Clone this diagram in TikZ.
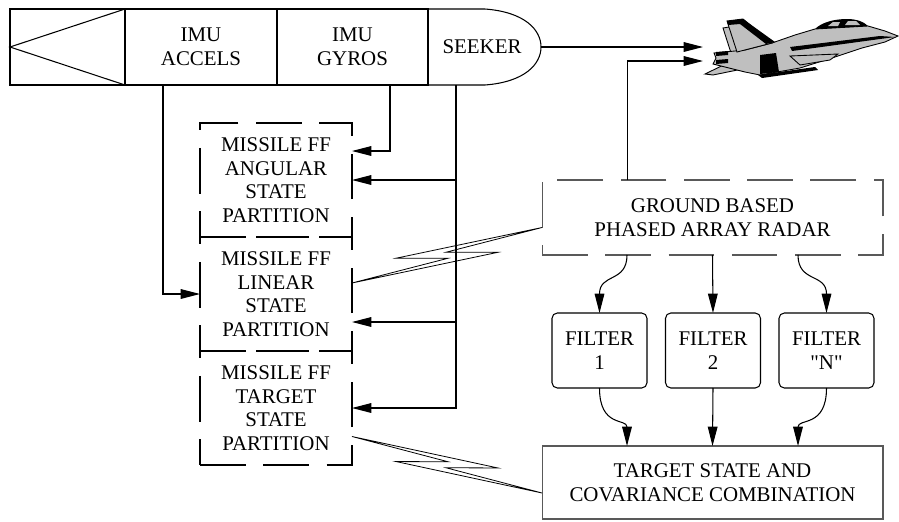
\documentclass[tikz,border=0pt]{standalone}
\usepackage{fontspec}
\setmainfont{Liberation Serif}
\newfontfamily\plainquotes{Liberation Serif}
\usetikzlibrary{arrows.meta,calc}

% zig-zag radio link between two points; #3 and #4 give the two offset sides
\newcommand{\radiolink}[4]{%
  \draw[bolt] (#1)
    -- ($(#1)!0.75!(#2)!6.5pt!#3:(#2)$)
    -- ($(#1)!0.5!(#2)!1.8pt!#4:(#2)$)
    -- (#2)
    -- ($(#1)!0.25!(#2)!6.5pt!#4:(#2)$)
    -- ($(#1)!0.5!(#2)!1.8pt!#3:(#2)$)
    -- cycle;}

\begin{document}
\begin{tikzpicture}[x=0.02cm,y=-0.02cm,line join=miter,
  font=\fontsize{11.9}{13.4}\selectfont,
  box/.style={draw,line width=0.6pt,inner sep=0pt,outer sep=0pt,align=center},
  bay/.style={box,minimum height=1.52cm},
  part/.style={box,dash pattern=on 26pt off 10pt,minimum width=3.04cm,minimum height=2.28cm},
  filterbox/.style={box,rounded corners=3pt,minimum width=1.9cm,minimum height=1.5cm},
  feed/.style={line width=0.6pt,-{Triangle[length=11pt,width=5.5pt]}},
  wire/.style={line width=0.6pt},
  bolt/.style={line width=0.45pt}]
  \useasboundingbox (0,0) rectangle (899,521);

  % Missile body: tail cone, the two IMU bays and the seeker nose.
  \node[bay,minimum width=2.3cm] (tail) at (67.5,47) {};
  \node[bay,minimum width=3.04cm] (accels) at (201,47) {IMU\\ACCELS};
  \node[bay,minimum width=3.02cm] (gyros) at (352.5,47) {IMU\\GYROS};
  \draw[wire] (tail.north east) -- (tail.west) -- (tail.south east);
  \coordinate (nosetip) at (541,47);
  \draw[wire] (gyros.north east) -- ++(57,0)
    .. controls +(40,3) and +(0,-17) .. (nosetip)
    .. controls +(0,17) and +(40,-3) .. ($(gyros.south east)+(57,0)$)
    -- (gyros.south east);
  \node (seeker) at (482,47) {SEEKER};

  % Filter partitions carried on board.
  \node[part] (angular) at (276,180) {MISSILE FF\\ANGULAR\\STATE\\PARTITION};
  \node[part] (linear) at (276,294) {MISSILE FF\\LINEAR\\STATE\\PARTITION};
  \node[part] (target) at (276,408) {MISSILE FF\\TARGET\\STATE\\PARTITION};

  % Sensor feeds into the partitions.
  \coordinate (accelfeed) at ($(accels.south west)+(38,0)$);
  \coordinate (gyrofeed) at ($(gyros.south east)+(-38,0)$);
  \coordinate (seekfeed) at ($(gyros.south east)+(28,0)$);
  \draw[feed] (accelfeed) |- (linear.west);
  \draw[feed] (gyrofeed) |- ($(angular.east)+(0,-29)$);
  \draw[feed] (seekfeed) |- (target.east);
  \draw[feed] (seekfeed |- angular.east) -- (angular.east);
  \draw[feed] ($(seekfeed |- linear.east)+(0,28)$) -- ($(linear.east)+(0,28)$);

  % Ground segment: radar, tracking filters and the combiner.
  \node[box,draw=black!65,dash pattern=on 26pt off 10pt,minimum width=6.82cm,minimum height=1.5cm]
    (radar) at (712.5,217.5) {GROUND BASED\\PHASED ARRAY RADAR};
  \node[filterbox] (filter1) at (599.5,350.5) {FILTER\\1};
  \node[filterbox] (filter2) at (713,350.5) {FILTER\\2};
  \node[filterbox] (filtern) at (826.5,350.5) {FILTER\\{\plainquotes"N"}};
  \node[box,draw=black!65,minimum width=6.82cm,minimum height=1.46cm]
    (combo) at (712.5,482.5) {TARGET STATE AND\\COVARIANCE COMBINATION};

  \draw[feed] ($(radar.south)+(-85.5,0)$) .. controls +(0,28) and +(0,-40) .. (filter1.north);
  \draw[feed] (radar.south) -- (filter2.north);
  \draw[feed] ($(radar.south)+(85.5,0)$) .. controls +(0,28) and +(0,-40) .. (filtern.north);
  \draw[feed] (filter1.south) .. controls +(0,40) and +(0,-28) .. ($(combo.north)+(-85.5,0)$);
  \draw[feed] (filter2.south) -- (combo.north);
  \draw[feed] (filtern.south) .. controls +(0,40) and +(0,-28) .. ($(combo.north)+(85.5,0)$);

  % Uplinks between the ground segment and the missile.
  \radiolink{$(linear.east)+(0,-11)$}{$(radar.west)+(0,10)$}{-90}{90}
  \radiolink{$(target.east)+(0,28.5)$}{$(combo.west)+(0,10.5)$}{90}{-90}

  % Seeker and radar lines towards the aircraft.
  \coordinate (jetaim) at (703,47);
  \coordinate (jetlow) at (703,61);
  \draw[feed] (nosetip) -- (jetaim);
  \draw[feed] ($(radar.north west)+(85,0)$) |- (jetlow);

  % The target aircraft.
  \begin{scope}[line width=0.5pt,fill=black!25,draw=black]
    % far fin and tailplane
    \filldraw (731,53) -- (723,28) -- (729,27) -- (748,50) -- cycle;
    \filldraw (738,58) -- (705,74) -- (713,75) -- (757,66) -- cycle;
    % fuselage
    \filldraw (898,36) -- (885,31) -- (868,26) -- (815,29) -- (795,35)
      -- (772,43) -- (745,50) -- (725,52) -- (714,53) -- (716,58)
      -- (713,64) -- (725,67) -- (745,72) -- (760,75) -- (800,68)
      -- (835,57) -- (862,48) -- (885,42) -- cycle;
    % near fin with its dark leading edge
    \filldraw (737,52) -- (727,21) -- (743,19) -- (772,43) -- cycle;
    \fill[black] (727,21) -- (743,19) -- (775,42) -- (766,44) -- (740,24) -- (728,25) -- cycle;
    % wing and ventral tank
    \filldraw (790,56) -- (838,54) -- (830,60) -- (800,65) -- cycle;
    \fill[black] (760,55) -- (776,53) -- (779,72) -- (760,74) -- cycle;
    \fill[black] (758,75) -- (815,67) -- (818,70) -- (762,78) -- cycle;
    % chine stripe and canopy
    \fill[black] (790,47) -- (880,36) -- (895,37) -- (880,39) -- (792,51) -- cycle;
    \fill[black] (815,29) .. controls (822,22) and (835,19) .. (847,19)
      .. controls (857,19) and (864,22) .. (868,26) -- cycle;
    \fill[black!25] (828,26) -- (833,22) -- (840,22) -- (838,26) -- cycle;
    \fill[black!25] (845,25) -- (848,21) -- (856,21) -- (860,25) -- cycle;
    % exhaust nozzles
    \fill[black] (716,52) -- (728,51) -- (728,55) -- (716,56) -- cycle;
    \fill[black] (716,60) -- (728,59) -- (728,63) -- (716,64) -- cycle;
  \end{scope}
\end{tikzpicture}
\end{document}
